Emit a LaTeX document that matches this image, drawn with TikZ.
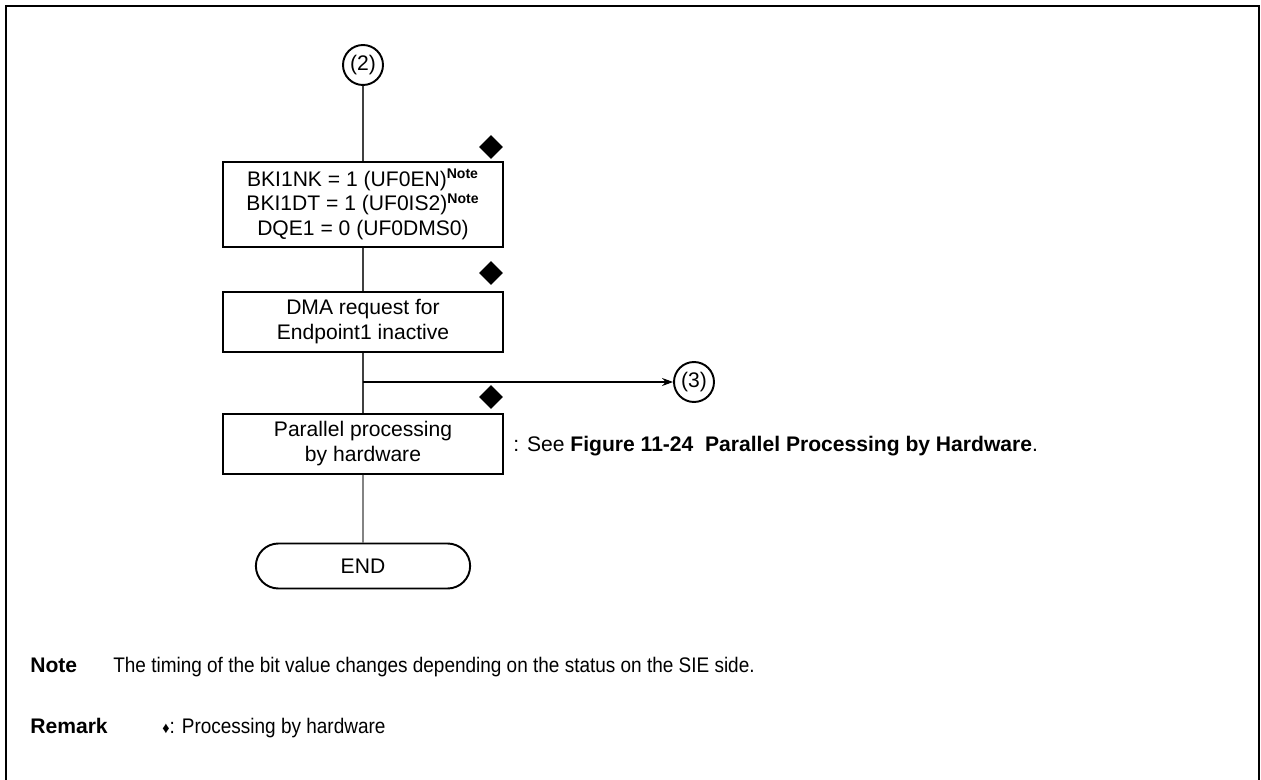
\documentclass[tikz,border=0pt]{standalone}
\usepackage{fontspec}
\setmainfont{Liberation Sans}
\newfontfamily\notefont{Liberation Sans}[FakeStretch=0.9]
\usepackage{tikz}
\usetikzlibrary{arrows.meta, positioning, shapes.geometric, shapes.misc}

\begin{document}
\begin{tikzpicture}[x=0.02cm, y=-0.02cm, >={Stealth[length=2.2mm, width=1.6mm]}, font=\fontsize{12}{14.2}\selectfont]
        \tikzset{procbox/.style={rectangle, draw, line width=1.1pt, minimum width=5.6cm, align=center, inner sep=2pt},
                 connode/.style={circle, draw, line width=1.1pt, minimum size=0.8cm, inner sep=0pt},
                 hwmark/.style={diamond, fill=black, minimum size=0.48cm, inner sep=0pt},
                 termnode/.style={rounded rectangle, draw, line width=1.1pt, minimum width=4.52cm, minimum height=0.9cm},
                 flow/.style={line width=0.6pt, black!75},
                 notetext/.style={anchor=base west, inner sep=0pt}}
        \useasboundingbox (0,0) rectangle (1261,780);
        \draw[line width=1.3pt] (6,780) -- (6,6) -- (1259,6) -- (1259,780);

        \node[connode] (c2) at (363,65) {(2)};
        \node[procbox, minimum height=1.7cm] (setbits) at (363,204.5)
            {BKI1NK = 1 (UF0EN)\textsuperscript{\textbf{Note}}\\
             BKI1DT = 1 (UF0IS2)\textsuperscript{\textbf{Note}}\\
             DQE1 = 0 (UF0DMS0)};
        \node[procbox, minimum height=1.2cm] (dmareq) at (363,322) {DMA request for\\Endpoint1 inactive};
        \node[procbox, minimum height=1.2cm] (parproc) at (363,444) {Parallel processing\\by hardware};
        \node[termnode] (end) at (363,566) {END};
        \node[connode] (c3) at (694,382) {(3)};
        \coordinate (branch) at (363,382);

        % hardware marks
        \node[hwmark] (hw1) at (491,147) {};
        \node[hwmark] (hw2) at (491,273) {};
        \node[hwmark] (hw3) at (491,397) {};

        \node[anchor=west, inner sep=0pt] (seefig) at (513,446)
            {: See \textbf{Figure 11-24\ \ Parallel Processing by Hardware}.};

        \draw[flow] (c2) -- (setbits);
        \draw[flow] (setbits) -- (dmareq);
        \draw[flow] (dmareq) -- (parproc);
        \draw[flow] (parproc) -- (end);
        \draw[flow, ->, black] (branch) -- (c3);

        % notes below the chart
        \node[notetext] (notehd) at (30,672) {\textbf{Note}};
        \node[notetext] (notetx) at (113,672)
            {\notefont The timing of the bit value changes depending on the status on the SIE side.};
        \node[notetext] (remhd) at (30,733) {\textbf{Remark}};
        \node[notetext] (remtx) at (162,733)
            {\notefont{\fontsize{9}{10}\selectfont ♦}: Processing by hardware};
    \end{tikzpicture}
\end{document}
